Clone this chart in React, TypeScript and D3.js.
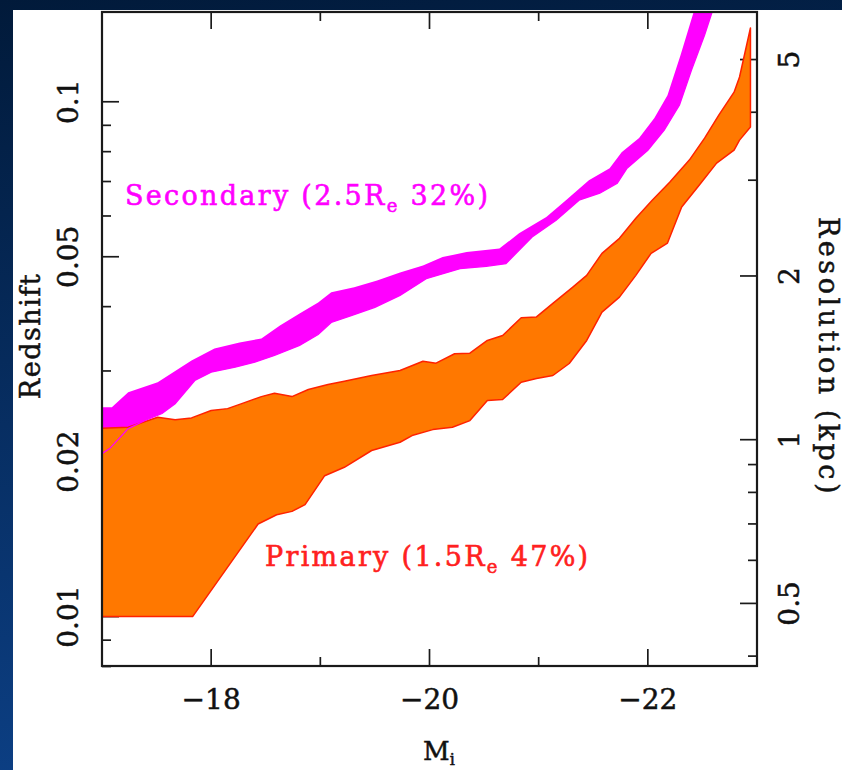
import React from "react";
import * as d3 from "d3";

// Band edges as [absolute magnitude M_i, redshift] pairs
const secondaryUpper: [number, number][] = [
  [-17.0, 0.0255], [-17.09, 0.0255], [-17.24, 0.02727], [-17.51, 0.02853], [-17.82, 0.03144],
  [-18.03, 0.03318], [-18.26, 0.03408], [-18.46, 0.03469], [-18.63, 0.03677], [-18.81, 0.0388],
  [-18.98, 0.04077], [-19.1, 0.04264], [-19.31, 0.0436], [-19.52, 0.04498], [-19.73, 0.04662],
  [-19.94, 0.0481], [-20.12, 0.04992], [-20.34, 0.05106], [-20.64, 0.05185], [-20.82, 0.05553],
  [-21.07, 0.05974], [-21.25, 0.06439], [-21.46, 0.0704], [-21.65, 0.0743], [-21.76, 0.07983],
  [-21.92, 0.085], [-22.06, 0.09296], [-22.18, 0.103], [-22.3, 0.1233], [-22.42, 0.1495],
  [-22.47, 0.1612],
];
const secondaryLower: [number, number][] = [
  [-17.0, 0.02073], [-17.07, 0.0212], [-17.24, 0.02318], [-17.39, 0.02403], [-17.55, 0.0248],
  [-17.67, 0.02592], [-17.85, 0.02875], [-18.0, 0.02983], [-18.22, 0.03051], [-18.4, 0.0312],
  [-18.58, 0.03215], [-18.81, 0.03363], [-18.98, 0.03532], [-19.1, 0.03727], [-19.29, 0.03846],
  [-19.5, 0.03987], [-19.73, 0.04206], [-19.97, 0.04533], [-20.28, 0.04741], [-20.52, 0.0479],
  [-20.7, 0.04848], [-20.94, 0.05461], [-21.16, 0.05886], [-21.37, 0.06439], [-21.56, 0.06643],
  [-21.72, 0.06946], [-21.81, 0.0743], [-22.0, 0.08053], [-22.15, 0.08808], [-22.29, 0.09853],
  [-22.4, 0.1153], [-22.52, 0.1348], [-22.61, 0.1542],
];
const primaryUpper: [number, number][] = [
  [-17.0, 0.02321], [-17.24, 0.02332], [-17.51, 0.02439], [-17.67, 0.02411], [-17.82, 0.02432],
  [-18.0, 0.02513], [-18.15, 0.02535], [-18.28, 0.02592], [-18.46, 0.02675], [-18.58, 0.02715],
  [-18.74, 0.02675], [-18.89, 0.02761], [-19.07, 0.02823], [-19.22, 0.02865], [-19.47, 0.0294],
  [-19.73, 0.03006], [-19.94, 0.03134], [-20.06, 0.03106], [-20.23, 0.0324], [-20.37, 0.03249],
  [-20.53, 0.03439], [-20.67, 0.03516], [-20.84, 0.03806], [-20.98, 0.0382], [-21.13, 0.04059],
  [-21.31, 0.0436], [-21.44, 0.04601], [-21.58, 0.05077], [-21.74, 0.05429], [-21.89, 0.05939],
  [-22.04, 0.06439], [-22.2, 0.06978], [-22.38, 0.07703], [-22.52, 0.085], [-22.65, 0.09421],
  [-22.79, 0.1044], [-22.84, 0.1117], [-22.94, 0.1391],
];
const primaryLower: [number, number][] = [
  [-17.0, 0.01], [-17.83, 0.01], [-18.43, 0.01513], [-18.6, 0.01577], [-18.74, 0.01601],
  [-18.86, 0.0165], [-19.04, 0.01878], [-19.22, 0.0195], [-19.47, 0.02102], [-19.73, 0.02181],
  [-19.84, 0.02247], [-20.03, 0.02308], [-20.21, 0.02332], [-20.37, 0.02403], [-20.53, 0.02629],
  [-20.67, 0.0264], [-20.84, 0.02853], [-20.98, 0.02901], [-21.13, 0.0294], [-21.28, 0.03102],
  [-21.44, 0.03439], [-21.58, 0.03903], [-21.74, 0.04174], [-21.89, 0.04601], [-22.03, 0.05077],
  [-22.18, 0.05316], [-22.31, 0.06248], [-22.47, 0.06884], [-22.63, 0.07599], [-22.79, 0.08053],
  [-22.84, 0.08424], [-22.94, 0.08929],
];

// Axis ticks
const magMajor = [-18, -20, -22];
const magMinor = [-19, -21];
const zMajor = [0.01, 0.02, 0.05, 0.1];
const zMinor = [0.008, 0.009, 0.03, 0.04, 0.06, 0.07, 0.08, 0.09];
const zLabels = ["0.01", "0.02", "0.05", "0.1"];
const resMajor = [0.5, 1, 2, 5];
const resMinor = [0.4, 0.6, 0.7, 0.8, 0.9, 3, 4];
const resLabels = ["0.5", "1", "2", "5"];

const W = 842;
const H = 770;
const L = 102, R = 757, T = 12, B = 666;

const FONT = "'DejaVu Serif', serif";

export default function App() {
  const x = d3.scaleLinear().domain([-17, -23]).range([L, R]);
  const yZ = d3.scaleLog().domain([0.008018, 0.1494]).range([B, T]);
  const yRes = d3.scaleLog().domain([0.3836, 6.115]).range([B, T]);

  const line = d3
    .line<[number, number]>()
    .x((d) => x(d[0]))
    .y((d) => yZ(d[1]));

  const band = (up: [number, number][], lo: [number, number][]) =>
    line([...up, ...lo.slice().reverse()]) + "Z";

  const majorLen = 17;
  const minorLen = 9;
  const tickStroke = "#1a1a1a";

  return (
    <svg
      width={W}
      height={H}
      style={{ position: "absolute", left: 0, top: 0, display: "block" }}
    >
      <defs>
        <linearGradient id="bg" x1="0" y1="0" x2="0.15" y2="1">
          <stop offset="0" stopColor="#011a3a" />
          <stop offset="1" stopColor="#0c3f84" />
        </linearGradient>
        <clipPath id="plot">
          <rect x={L} y={T} width={R - L} height={B - T} />
        </clipPath>
      </defs>
      <rect x={0} y={0} width={W} height={H} fill="url(#bg)" />
      <rect x={13} y={10} width={W - 13} height={H - 10} fill="#ffffff" />

      {/* ticks */}
      <g stroke={tickStroke} strokeWidth={1.7}>
        {magMajor.map((m) => (
          <g key={"mM" + m}>
            <line x1={x(m)} x2={x(m)} y1={B} y2={B - majorLen} />
            <line x1={x(m)} x2={x(m)} y1={T} y2={T + majorLen} />
          </g>
        ))}
        {magMinor.map((m) => (
          <g key={"mm" + m}>
            <line x1={x(m)} x2={x(m)} y1={B} y2={B - minorLen} />
            <line x1={x(m)} x2={x(m)} y1={T} y2={T + minorLen} />
          </g>
        ))}
        {zMajor.map((z) => (
          <line key={"zM" + z} x1={L} x2={L + majorLen} y1={yZ(z)} y2={yZ(z)} />
        ))}
        {zMinor.map((z) => (
          <line key={"zm" + z} x1={L} x2={L + minorLen} y1={yZ(z)} y2={yZ(z)} />
        ))}
        {resMajor.map((r) => (
          <line key={"rM" + r} x1={R} x2={R - majorLen} y1={yRes(r)} y2={yRes(r)} />
        ))}
        {resMinor.map((r) => (
          <line key={"rm" + r} x1={R} x2={R - minorLen} y1={yRes(r)} y2={yRes(r)} />
        ))}
      </g>

      {/* bands */}
      <g clipPath="url(#plot)">
        <path d={band(secondaryUpper, secondaryLower)} fill="#ff00ff" stroke="none" />
        <path
          d={band(primaryUpper, primaryLower)}
          fill="#ff7800"
          stroke="#ff2200"
          strokeWidth={1.5}
          strokeLinejoin="round"
        />
        <path d={line(secondaryLower) || ""} fill="none" stroke="#ff00ff" strokeWidth={1.3} />
      </g>

      {/* frame */}
      <rect x={L} y={T} width={R - L} height={B - T} fill="none" stroke="#1a1a1a" strokeWidth={2.2} />

      {/* tick labels */}
      <g fontFamily={FONT} fontSize={28} fill="#111" stroke="#111" strokeWidth={0.5}>
        {magMajor.map((m) => (
          <text key={"lm" + m} x={x(m)} y={709} textAnchor="middle">
            {"\u2212" + Math.abs(m)}
          </text>
        ))}
        {zMajor.map((z, i) => (
          <text
            key={"lz" + z}
            transform={`translate(68,${yZ(z)}) rotate(-90)`}
            textAnchor="middle"
            dominantBaseline="central"
          >
            {zLabels[i]}
          </text>
        ))}
        {resMajor.map((r, i) => (
          <text
            key={"lr" + r}
            transform={`translate(789,${yRes(r)}) rotate(-90)`}
            textAnchor="middle"
            dominantBaseline="central"
          >
            {resLabels[i]}
          </text>
        ))}
      </g>

      {/* axis titles */}
      <g fontFamily={FONT} fill="#111" stroke="#111" strokeWidth={0.5}>
        <text
          transform="translate(30,336) rotate(-90)"
          textAnchor="middle"
          dominantBaseline="central"
          fontSize={27}
          style={{ letterSpacing: "1.5px" }}
        >
          Redshift
        </text>
        <text
          transform="translate(828,357) rotate(90)"
          textAnchor="middle"
          dominantBaseline="central"
          fontSize={27}
          style={{ letterSpacing: "3.5px" }}
        >
          Resolution (kpc)
        </text>
        <text x={423} y={760} fontSize={26}>
          M<tspan fontSize={16} dy={5}>i</tspan>
        </text>
      </g>

      {/* band labels */}
      <text
        x={125}
        y={205}
        fontFamily={FONT}
        fontSize={27}
        fill="#ff00ff"
        stroke="#ff00ff"
        strokeWidth={0.6}
        style={{ letterSpacing: "2.3px" }}
      >
        Secondary (2.5R<tspan fontSize={18} dy={7}>e</tspan>
        <tspan dy={-7}> 32%)</tspan>
      </text>
      <text
        x={265}
        y={566}
        fontFamily={FONT}
        fontSize={27}
        fill="#ff2020"
        stroke="#ff2020"
        strokeWidth={0.6}
        style={{ letterSpacing: "2.3px" }}
      >
        Primary (1.5R<tspan fontSize={18} dy={7}>e</tspan>
        <tspan dy={-7}> 47%)</tspan>
      </text>
    </svg>
  );
}
